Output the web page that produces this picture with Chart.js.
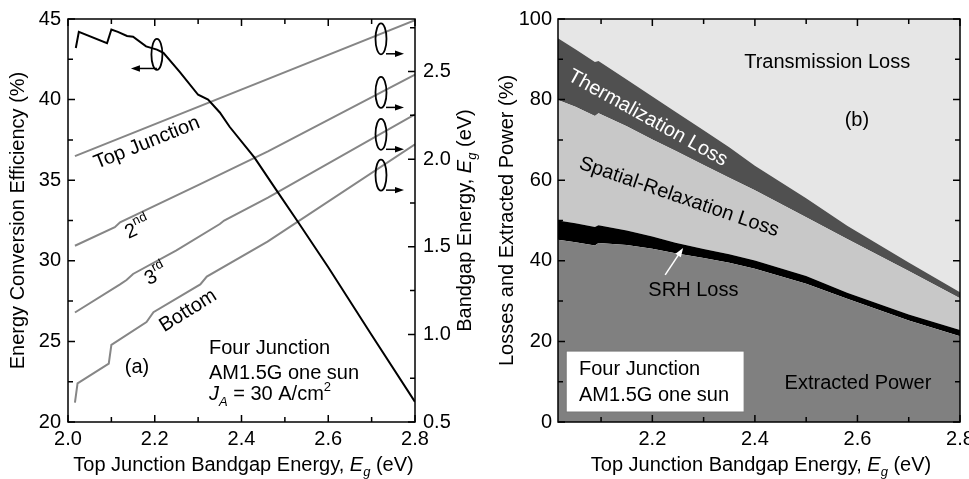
<!DOCTYPE html>
<html>
<head>
<meta charset="utf-8">
<script src="https://cdn.jsdelivr.net/npm/chart.js@4.4.0/dist/chart.umd.min.js"></script>
<style>
  html, body { margin: 0; padding: 0; background: #fff; }
  #wrap { position: relative; width: 969px; height: 479px; overflow: hidden; }
  canvas { position: absolute; top: 0; }
  #chartA { left: 0; }
  #chartB { left: 484px; }
</style>
</head>
<body>
<div id="wrap">
  <canvas id="chartA" width="484" height="479"></canvas>
  <canvas id="chartB" width="485" height="479"></canvas>
</div>
<script>
const FONT = '"Liberation Sans", Arial, sans-serif';

// (a) efficiency vs top junction bandgap
const effEg = [2.018, 2.025, 2.09, 2.1, 2.115, 2.136, 2.15, 2.18, 2.205, 2.22, 2.258, 2.3, 2.323, 2.35, 2.373, 2.43, 2.48, 2.528, 2.6, 2.7, 2.8];
const effValues = [43.2, 44.2, 43.5, 44.35, 44.2, 43.95, 43.9, 43.3, 43.1, 42.9, 41.7, 40.3, 40.0, 39.2, 38.3, 36.4, 34.4, 32.5, 29.6, 25.4, 21.25];

// (a) bandgaps of the four junctions (right axis)
const topEg = [2.016, 2.8];
const topGap = [2.017, 2.793];
const secondEg = [2.016, 2.108, 2.12, 2.3, 2.461, 2.8];
const secondGap = [1.506, 1.612, 1.64, 1.852, 2.045, 2.483];
const thirdEg = [2.016, 2.12, 2.135, 2.15, 2.25, 2.35, 2.36, 2.461, 2.8];
const thirdGap = [1.125, 1.285, 1.31, 1.345, 1.48, 1.63, 1.65, 1.78, 2.256];
const bottomEg = [2.016, 2.022, 2.094, 2.1, 2.181, 2.197, 2.305, 2.32, 2.46, 2.8];
const bottomGap = [0.61, 0.72, 0.833, 0.94, 1.07, 1.127, 1.285, 1.33, 1.53, 2.085];

// (b) power breakdown (%), bottom to top
const lossEg = [2.016, 2.05, 2.088, 2.095, 2.15, 2.2, 2.245, 2.3, 2.35, 2.4, 2.5, 2.58, 2.7, 2.8];
const extractedPower = [45.2, 44.6, 43.8, 44.4, 43.9, 43.0, 41.9, 40.7, 39.5, 38.0, 34.3, 30.6, 25.2, 21.3];
const srhLoss = [4.8, 4.7, 4.6, 4.4, 3.6, 3.0, 2.6, 2.2, 2.1, 2.1, 1.9, 1.5, 1.5, 1.5];
const spatialLoss = [29.9, 28.9, 27.5, 27.8, 25.9, 24.1, 22.8, 20.9, 19.0, 17.4, 14.6, 13.3, 10.8, 7.9];
const thermalLoss = [15.3, 14.3, 13.4, 13.0, 11.6, 10.7, 9.7, 8.6, 7.6, 6.1, 4.7, 3.3, 2.1, 1.5];
const transmissionLoss = [4.8, 7.5, 10.7, 10.4, 15.0, 19.2, 23.0, 27.6, 31.8, 36.4, 44.5, 51.3, 60.4, 67.8];

// tick labels
const xTicksA = [2.0, 2.2, 2.4, 2.6, 2.8];
const xMinorA = [2.1, 2.3, 2.5, 2.7];
const effTicks = [20, 25, 30, 35, 40, 45];
const effMinor = [22.5, 27.5, 32.5, 37.5, 42.5];
const gapTicks = [0.5, 1.0, 1.5, 2.0, 2.5];
const gapMinor = [0.75, 1.25, 1.75, 2.25, 2.75];
const xTicksB = [2.2, 2.4, 2.6, 2.8];
const xMinorB = [2.1, 2.3, 2.5, 2.7];
const lossTicks = [0, 20, 40, 60, 80, 100];
const lossMinor = [10, 30, 50, 70, 90];

function pts(xs, ys) {
  return xs.map((x, i) => ({ x: x, y: ys[i] }));
}

function richText(ctx, parts, x, y, opts) {
  opts = opts || {};
  const size = opts.size || 20;
  ctx.save();
  ctx.translate(x, y);
  if (opts.angle) ctx.rotate(opts.angle * Math.PI / 180);
  ctx.fillStyle = opts.color || '#000';
  ctx.textBaseline = 'middle';
  ctx.textAlign = 'left';
  const fontOf = p => (p.i ? 'italic ' : '') + ((p.sub || p.sup) ? Math.round(size * 0.65) : size) + 'px ' + FONT;
  let total = 0;
  parts.forEach(p => { ctx.font = fontOf(p); p.w = ctx.measureText(p.t).width; total += p.w; });
  let cx = opts.align === 'left' ? 0 : -total / 2;
  parts.forEach(p => {
    ctx.font = fontOf(p);
    const dy = p.sub ? size * 0.38 : (p.sup ? -size * 0.38 : 0);
    ctx.fillText(p.t, cx, dy);
    cx += p.w;
  });
  ctx.restore();
}

function tickMarks(chart, id, values, len, sides) {
  const ctx = chart.ctx, a = chart.chartArea, s = chart.scales[id];
  ctx.beginPath();
  values.forEach(v => {
    const p = s.getPixelForValue(v);
    if (sides.includes('bottom')) { ctx.moveTo(p, a.bottom); ctx.lineTo(p, a.bottom - len); }
    if (sides.includes('top')) { ctx.moveTo(p, a.top); ctx.lineTo(p, a.top + len); }
    if (sides.includes('left')) { ctx.moveTo(a.left, p); ctx.lineTo(a.left + len, p); }
    if (sides.includes('right')) { ctx.moveTo(a.right, p); ctx.lineTo(a.right - len, p); }
  });
  ctx.stroke();
}

function arrow(ctx, x1, y1, x2, y2, color) {
  const ang = Math.atan2(y2 - y1, x2 - x1);
  ctx.strokeStyle = color; ctx.fillStyle = color;
  ctx.lineWidth = 1.5;
  ctx.beginPath(); ctx.moveTo(x1, y1); ctx.lineTo(x2 - 6 * Math.cos(ang), y2 - 6 * Math.sin(ang)); ctx.stroke();
  ctx.beginPath();
  ctx.moveTo(x2, y2);
  ctx.lineTo(x2 - 9 * Math.cos(ang) + 3.2 * Math.sin(ang), y2 - 9 * Math.sin(ang) - 3.2 * Math.cos(ang));
  ctx.lineTo(x2 - 9 * Math.cos(ang) - 3.2 * Math.sin(ang), y2 - 9 * Math.sin(ang) + 3.2 * Math.cos(ang));
  ctx.closePath(); ctx.fill();
}

function ellipse(ctx, cx, cy) {
  ctx.strokeStyle = '#000'; ctx.lineWidth = 1.8;
  ctx.beginPath(); ctx.ellipse(cx, cy, 5.5, 15.5, 0, 0, Math.PI * 2); ctx.stroke();
}

function fixedScale(extra) {
  return Object.assign({
    grid: { display: false, drawTicks: false },
    border: { display: false },
    ticks: { color: '#000', font: { family: FONT, size: 20 } }
  }, extra);
}

const panelA = {
  id: 'panelA',
  afterDatasetsDraw(chart) {
    const ctx = chart.ctx, a = chart.chartArea, sc = chart.scales;
    const X = v => sc.x.getPixelForValue(v), Y = v => sc.y.getPixelForValue(v), Y2 = v => sc.y2.getPixelForValue(v);
    ctx.save();
    ctx.strokeStyle = '#000'; ctx.lineWidth = 1.5;
    ctx.strokeRect(a.left, a.top, a.right - a.left, a.bottom - a.top);
    tickMarks(chart, 'x', xTicksA, 7, ['bottom', 'top']);
    tickMarks(chart, 'x', xMinorA, 5, ['bottom', 'top']);
    tickMarks(chart, 'y', effTicks, 7, ['left']);
    tickMarks(chart, 'y', effMinor, 5, ['left']);
    tickMarks(chart, 'y2', gapTicks, 7, ['right']);
    tickMarks(chart, 'y2', gapMinor, 5, ['right']);

    // axis markers
    const ex = X(2.205), ey = Y(42.8);
    ellipse(ctx, ex, ey);
    arrow(ctx, ex, ey + 14, ex - 26, ey + 14, '#000');
    [2.687, 2.381, 2.142, 1.909].forEach(g => {
      const cx = X(2.7216), cy = Y2(g);
      ellipse(ctx, cx, cy);
      arrow(ctx, cx + 5, cy + 15, cx + 23, cy + 15, '#000');
    });

    // labels
    richText(ctx, [{ t: 'Top Junction' }], X(2.182), Y(37.31), { angle: -22 });
    richText(ctx, [{ t: '2' }, { t: 'nd', sup: true }], X(2.161), Y(32.0), { angle: -25 });
    richText(ctx, [{ t: '3' }, { t: 'rd', sup: true }], X(2.203), Y(29.1), { angle: -28 });
    richText(ctx, [{ t: 'Bottom' }], X(2.277), Y(26.9), { angle: -32 });
    richText(ctx, [{ t: '(a)' }], X(2.159), Y(23.41));
    richText(ctx, [{ t: 'Four Junction' }], X(2.325), Y(24.59), { align: 'left' });
    richText(ctx, [{ t: 'AM1.5G one sun' }], X(2.325), Y(23.04), { align: 'left' });
    richText(ctx, [{ t: 'J', i: true }, { t: 'A', sub: true, i: true }, { t: ' = 30 A/cm' }, { t: '2', sup: true }], X(2.325), Y(21.68), { align: 'left' });

    // axis titles
    const mid = (a.top + a.bottom) / 2;
    richText(ctx, [{ t: 'Energy Conversion Efficiency (%)' }], a.left - 50, mid, { angle: -90 });
    richText(ctx, [{ t: 'Bandgap Energy, ' }, { t: 'E', i: true }, { t: 'g', i: true, sub: true }, { t: ' (eV)' }], a.right + 50, mid, { angle: -90 });
    richText(ctx, [{ t: 'Top Junction Bandgap Energy, ' }, { t: 'E', i: true }, { t: 'g', i: true, sub: true }, { t: ' (eV)' }], (a.left + a.right) / 2 + 2, a.bottom + 43);
    ctx.restore();
  }
};

const panelB = {
  id: 'panelB',
  afterDatasetsDraw(chart) {
    const ctx = chart.ctx, a = chart.chartArea, sc = chart.scales;
    const X = v => sc.x.getPixelForValue(v), Y = v => sc.y.getPixelForValue(v);
    ctx.save();
    ctx.strokeStyle = '#000'; ctx.lineWidth = 1.5;
    ctx.strokeRect(a.left, a.top, a.right - a.left, a.bottom - a.top);
    tickMarks(chart, 'x', xTicksB, 7, ['bottom', 'top']);
    tickMarks(chart, 'x', xMinorB, 5, ['bottom', 'top']);
    tickMarks(chart, 'y', lossTicks, 7, ['left', 'right']);
    tickMarks(chart, 'y', lossMinor, 5, ['left', 'right']);

    richText(ctx, [{ t: 'Transmission Loss' }], X(2.541), Y(89.3));
    richText(ctx, [{ t: '(b)' }], X(2.599), Y(74.8));
    richText(ctx, [{ t: 'Thermalization Loss' }], X(2.191), Y(75.4), { angle: 29, color: '#fff' });
    richText(ctx, [{ t: 'Spatial-Relaxation Loss' }], X(2.252), Y(55.8), { angle: 19 });
    richText(ctx, [{ t: 'SRH Loss' }], X(2.28), Y(32.75));
    richText(ctx, [{ t: 'Extracted Power' }], X(2.601), Y(9.68));
    arrow(ctx, X(2.225), Y(36.5), X(2.26), Y(43.2), '#fff');

    // legend box
    const bx = X(2.032), by = Y(17.6);
    ctx.fillStyle = '#fff'; ctx.fillRect(bx, by, X(2.379) - bx, Y(2.48) - by);
    ctx.strokeStyle = '#777'; ctx.lineWidth = 1;
    ctx.strokeRect(bx, by, X(2.379) - bx, Y(2.48) - by);
    richText(ctx, [{ t: 'Four Junction' }], X(2.057), Y(13.15), { align: 'left' });
    richText(ctx, [{ t: 'AM1.5G one sun' }], X(2.057), Y(6.7), { align: 'left' });

    const mid = (a.top + a.bottom) / 2;
    richText(ctx, [{ t: 'Losses and Extracted Power (%)' }], a.left - 51, mid, { angle: -90 });
    richText(ctx, [{ t: 'Top Junction Bandgap Energy, ' }, { t: 'E', i: true }, { t: 'g', i: true, sub: true }, { t: ' (eV)' }], (a.left + a.right) / 2 + 2, a.bottom + 43);
    ctx.restore();
  }
};

const grayLine = { borderColor: '#868686', borderWidth: 2, pointRadius: 0, showLine: true, yAxisID: 'y2' };

new Chart(document.getElementById('chartA'), {
  type: 'scatter',
  data: {
    datasets: [
      { data: pts(effEg, effValues), borderColor: '#000', borderWidth: 2, pointRadius: 0, showLine: true, yAxisID: 'y' },
      Object.assign({ data: pts(topEg, topGap) }, grayLine),
      Object.assign({ data: pts(secondEg, secondGap) }, grayLine),
      Object.assign({ data: pts(thirdEg, thirdGap) }, grayLine),
      Object.assign({ data: pts(bottomEg, bottomGap) }, grayLine)
    ]
  },
  options: {
    responsive: false, animation: false, devicePixelRatio: 1,
    layout: { padding: { top: 19, left: 0, right: 0, bottom: 0 } },
    plugins: { legend: { display: false }, tooltip: { enabled: false } },
    scales: {
      x: fixedScale({
        type: 'linear', min: 2.0, max: 2.8,
        afterBuildTicks: s => { s.ticks = xTicksA.map(v => ({ value: v })); },
        afterFit: s => { s.height = 57; s.paddingLeft = 0; s.paddingRight = 0; },
        ticks: { color: '#000', font: { family: FONT, size: 20 }, padding: 5, maxRotation: 0, callback: v => v.toFixed(1) }
      }),
      y: fixedScale({
        position: 'left', min: 20, max: 45,
        afterBuildTicks: s => { s.ticks = effTicks.map(v => ({ value: v })); },
        afterFit: s => { s.width = 68; s.paddingTop = 0; s.paddingBottom = 0; },
        ticks: { color: '#000', font: { family: FONT, size: 20 }, padding: 7, callback: v => String(v) }
      }),
      y2: fixedScale({
        position: 'right', min: 0.5, max: 2.8,
        afterBuildTicks: s => { s.ticks = gapTicks.map(v => ({ value: v })); },
        afterFit: s => { s.width = 69; s.paddingTop = 0; s.paddingBottom = 0; },
        ticks: { color: '#000', font: { family: FONT, size: 20 }, padding: 8, callback: v => v.toFixed(1) }
      })
    }
  },
  plugins: [panelA]
});

// running totals give the boundaries of the stacked bands
const bands = [
  { vals: extractedPower, color: '#808080' },
  { vals: srhLoss, color: '#000000' },
  { vals: spatialLoss, color: '#c8c8c8' },
  { vals: thermalLoss, color: '#505050' },
  { vals: transmissionLoss, color: '#e6e6e6' }
];
let running = lossEg.map(() => 0);
const bandSets = bands.map((b, i) => {
  running = running.map((r, k) => r + b.vals[k]);
  return {
    data: pts(lossEg, running),
    backgroundColor: b.color, borderColor: b.color, borderWidth: 0,
    pointRadius: 0, fill: i === 0 ? 'origin' : '-1', tension: 0
  };
});

new Chart(document.getElementById('chartB'), {
  type: 'line',
  data: { datasets: bandSets },
  options: {
    responsive: false, animation: false, devicePixelRatio: 1,
    layout: { padding: { top: 19, left: 0, right: 9, bottom: 0 } },
    plugins: { legend: { display: false }, tooltip: { enabled: false } },
    scales: {
      x: fixedScale({
        type: 'linear', min: 2.016, max: 2.8,
        afterBuildTicks: s => { s.ticks = xTicksB.map(v => ({ value: v })); },
        afterFit: s => { s.height = 57; s.paddingLeft = 0; s.paddingRight = 0; },
        ticks: { color: '#000', font: { family: FONT, size: 20 }, padding: 5, maxRotation: 0, callback: v => v.toFixed(1) }
      }),
      y: fixedScale({
        position: 'left', min: 0, max: 100,
        afterBuildTicks: s => { s.ticks = lossTicks.map(v => ({ value: v })); },
        afterFit: s => { s.width = 74; s.paddingTop = 0; s.paddingBottom = 0; },
        ticks: { color: '#000', font: { family: FONT, size: 20 }, padding: 6, callback: v => String(v) }
      })
    }
  },
  plugins: [panelB]
});
</script>
</body>
</html>
